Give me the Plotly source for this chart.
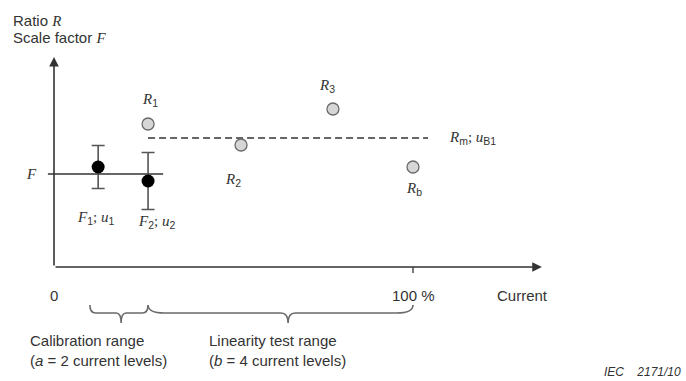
import plotly.graph_objects as go

# ---- data (arbitrary ratio units, current in % of rated) ----
cal_levels = [12.3, 26.2]          # current levels for F1, F2
F_values = [100, 86]               # scale factors F1, F2
F_uncert = [21.5, 28.5]            # u1, u2
F_mean = 93                        # combined scale factor F
F_line_span = [-1.7, 30.4]

lin_levels = [26.2, 52.1, 77.7, 100]   # current levels for R1, R2, R3, Rb
R_values = [143, 122, 158, 100]
R_mean = 129
R_line_span = [26.2, 104.2]

cal_brace = [10.0, 26.2, 18.7]     # start, end, tip (current %)
lin_brace = [26.2, 100.0, 65.2]

x_axis_end = 135.9
y_axis_end = 210

# ---- figure scale (plot area = whole page) ----
W, H = 686, 381
PX_PER_X = 3.59
ORIGIN_PX = 54
X_RANGE = [-ORIGIN_PX / PX_PER_X, (W - ORIGIN_PX) / PX_PER_X]
Y_RANGE = [-(H - 267), 267]

INK = "#333333"
GRAY = "#666666"
SANS = "Liberation Sans, Arial, sans-serif"
SERIF = "Liberation Serif, Times New Roman, serif"

fig = go.Figure()

# F horizontal line
fig.add_trace(go.Scatter(x=F_line_span, y=[F_mean, F_mean], mode="lines",
                         line=dict(color=INK, width=1.6), hoverinfo="skip"))
# Rm dashed line
fig.add_trace(go.Scatter(x=R_line_span, y=[R_mean, R_mean], mode="lines",
                         line=dict(color=GRAY, width=2, dash="7px,4px"), hoverinfo="skip"))
# Calibration points with error bars
fig.add_trace(go.Scatter(x=cal_levels, y=F_values, mode="markers",
                         marker=dict(color="black", size=13, line=dict(width=0)),
                         error_y=dict(type="data", array=F_uncert, visible=True,
                                      color="#555555", thickness=1.6, width=6.5)))
# Linearity ratios
fig.add_trace(go.Scatter(x=lin_levels, y=R_values, mode="markers",
                         marker=dict(color="#d6d6d6", size=12,
                                     line=dict(color="#6a6a6a", width=1.3))))

annotations = []

# axes arrows
annotations.append(dict(x=x_axis_end, y=0, ax=0, ay=0, xref="x", yref="y",
                        axref="x", ayref="y", text="", showarrow=True,
                        arrowhead=2, arrowsize=1.2, arrowwidth=1.6, arrowcolor=INK,
                        standoff=0, startstandoff=0))
annotations.append(dict(x=0, y=y_axis_end, ax=0, ay=0, xref="x", yref="y",
                        axref="x", ayref="y", text="", showarrow=True,
                        arrowhead=2, arrowsize=1.2, arrowwidth=1.6, arrowcolor=INK,
                        standoff=0, startstandoff=0))


def sub(s):
    return f"<sub><span style='font-family:{SANS}'>{s}</span></sub>"


def it(s):
    return f"<i>{s}</i>"


def point_label(x, y, text, dx, dy, anchor="center"):
    annotations.append(dict(x=x, y=y, xref="x", yref="y", text=text, showarrow=False,
                            xshift=dx, yshift=dy, xanchor=anchor, yanchor="middle",
                            font=dict(family=SERIF, size=15, color=INK)))


# point labels
R_names = ["1", "2", "3", "b"]
R_offsets = [(2, 24), (-8, -35), (-6, 23), (1, -22)]
for xv, yv, nm, (dx, dy) in zip(lin_levels, R_values, R_names, R_offsets):
    point_label(xv, yv, it("R") + sub(nm), dx, dy)

F_offsets = [(-3, -51), (8, -41)]
for i, (xv, yv, (dx, dy)) in enumerate(zip(cal_levels, F_values, F_offsets)):
    point_label(xv, yv, it("F") + sub(str(i + 1)) + "; " + it("u") + sub(str(i + 1)), dx, dy)

point_label(R_line_span[1], R_mean, it("R") + sub("m") + "; " + it("u") + sub("B1"), 19, 0, "left")
point_label(F_line_span[0], F_mean, it("F"), -16, 0)


def text(xv, yv, s, xref="x", yref="y", anchor="left", size=16, dy=0, italic=False):
    annotations.append(dict(x=xv, y=yv, xref=xref, yref=yref, text=s, showarrow=False,
                            xanchor=anchor, yanchor="middle", align="left", yshift=dy,
                            font=dict(family=SANS, size=size, color=INK)))


# axis titles / ticks
text(11 / W, 1 - 20 / H, "Ratio " + f"<span style='font-family:{SERIF}'><i>R</i></span>",
     xref="paper", yref="paper", size=15)
text(11 / W, 1 - 38 / H, "Scale factor " + f"<span style='font-family:{SERIF}'><i>F</i></span>",
     xref="paper", yref="paper", size=15)
text(0, 0, "0", anchor="center", dy=-28, size=15)
text(100, 0, "100 %", anchor="center", dy=-28, size=15)
text(122.8, 0, "Current", anchor="left", dy=-28, size=15)

# range descriptions
text(28 / W, 1 - 350 / H, "Calibration range<br>(<i>a</i> = 2 current levels)",
     xref="paper", yref="paper", size=15)
text(207 / W, 1 - 350 / H, "Linearity test range<br>(<i>b</i> = 4 current levels)",
     xref="paper", yref="paper", size=15)
text(683 / W, 1 - 372 / H, "<i>IEC    2171/10</i>", xref="paper", yref="paper",
     anchor="right", size=12)

# 100 % tick
shapes = [dict(type="line", xref="x", yref="y", x0=100, x1=100, y0=0, y1=-6,
               line=dict(color=INK, width=1.3))]


def brace(a, b, tip, ra, rt):
    top, mid, bot = -38, -46, -56
    path = (f"M {a},{top} Q {a},{mid} {a + ra},{mid} L {tip - rt},{mid} "
            f"Q {tip},{mid} {tip},{bot} Q {tip},{mid} {tip + rt},{mid} "
            f"L {b - ra},{mid} Q {b},{mid} {b},{top}")
    return dict(type="path", xref="x", yref="y", path=path,
                line=dict(color="#6a6a6a", width=1.6))


shapes.append(brace(*cal_brace, 1.6, 1.4))
shapes.append(brace(*lin_brace, 4.5, 2.0))

fig.update_layout(
    width=W, height=H, margin=dict(l=0, r=0, t=0, b=0),
    paper_bgcolor="white", plot_bgcolor="white", showlegend=False,
    xaxis=dict(range=X_RANGE, visible=False, fixedrange=True),
    yaxis=dict(range=Y_RANGE, visible=False, fixedrange=True),
    annotations=annotations, shapes=shapes,
)

fig.write_html("out.html")
